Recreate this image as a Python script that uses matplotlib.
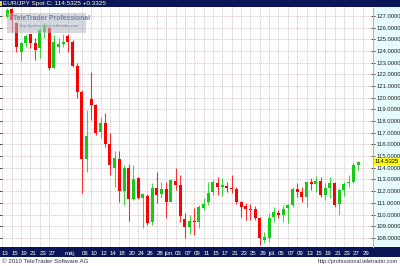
"""EUR/JPY daily candles, TeleTrader style."""

import numpy as np
import matplotlib.pyplot as plt
from matplotlib.patches import Rectangle
from matplotlib.transforms import ScaledTranslation

# daily OHLC, 14 Apr .. end of Jul
opens = [126.94, 127.60, 126.37, 123.95, 124.66, 125.43, 124.66, 124.23, 125.66, 125.94,
         122.52, 124.37, 124.57, 125.32, 124.74, 122.75, 120.47, 114.76, 119.89, 119.38,
         117.10, 117.81, 116.01, 114.00, 114.76, 112.02, 114.00, 111.33, 113.16, 111.45,
         111.62, 109.33, 112.30, 111.73, 112.19, 111.10, 112.87, 112.53, 109.62, 108.96,
         109.45, 109.39, 110.60, 111.10, 111.90, 112.73, 112.39, 112.47, 112.30, 112.19,
         111.05, 110.72, 110.47, 110.47, 109.73, 107.82, 107.96, 109.82, 110.10, 109.96,
         110.53, 110.82, 112.19, 111.96, 111.53, 112.76, 112.59, 112.87, 111.68, 112.30,
         112.67, 110.87, 112.10, 112.67, 112.82, 114.20]
highs = [127.71, 127.66, 126.50, 124.80, 125.50, 125.50, 125.09, 125.94, 126.37, 126.09,
         125.37, 125.09, 125.50, 125.50, 124.94, 122.95, 120.66, 118.95, 122.23, 119.44,
         118.38, 118.67, 116.95, 115.40, 115.44, 114.24, 114.30, 114.24, 113.24, 111.87,
         111.73, 112.67, 113.67, 112.82, 112.82, 113.04, 114.00, 113.39, 110.10, 109.96,
         110.53, 110.82, 111.45, 112.82, 112.96, 113.24, 113.16, 112.76, 113.39, 112.39,
         111.16, 110.96, 110.88, 110.72, 109.82, 108.53, 110.10, 110.68, 110.39, 110.82,
         110.88, 112.39, 112.67, 112.39, 112.82, 113.16, 113.33, 113.24, 112.67, 113.24,
         112.76, 112.24, 112.82, 113.39, 114.39, 114.60]
lows = [126.80, 125.66, 123.95, 123.15, 124.37, 124.23, 123.23, 123.37, 125.09, 122.38,
        122.52, 123.80, 124.37, 123.95, 122.66, 119.95, 111.82, 113.67, 118.10, 116.81,
        116.53, 115.81, 113.39, 112.40, 111.10, 110.80, 109.45, 111.25, 111.33, 108.82,
        109.11, 109.11, 110.96, 111.45, 109.68, 111.05, 112.10, 109.33, 107.97, 108.31,
        108.25, 108.88, 110.39, 110.82, 111.67, 111.67, 111.62, 111.96, 111.82, 110.88,
        109.82, 109.53, 109.53, 109.53, 107.40, 107.53, 107.68, 109.39, 109.68, 109.39,
        109.25, 110.68, 111.53, 111.10, 110.68, 112.10, 111.96, 111.53, 111.25, 111.45,
        110.68, 109.96, 111.62, 112.39, 112.67, 113.80]
closes = [127.51, 126.66, 124.37, 124.66, 125.32, 124.66, 124.09, 125.80, 126.09, 122.52,
          124.80, 124.57, 124.74, 124.74, 122.75, 120.47, 114.76, 116.76, 119.38, 116.95,
          117.81, 116.01, 114.20, 114.80, 112.02, 114.00, 111.33, 113.04, 111.45, 111.73,
          109.25, 112.30, 111.68, 112.19, 111.10, 112.96, 112.53, 109.90, 108.96, 109.45,
          109.39, 110.68, 110.90, 111.87, 112.76, 112.39, 112.53, 112.30, 112.19, 111.05,
          110.68, 110.47, 110.36, 109.68, 107.96, 108.10, 109.73, 110.19, 109.96, 110.47,
          110.82, 112.19, 111.96, 111.53, 112.76, 112.59, 112.87, 111.70, 112.30, 112.67,
          110.82, 112.10, 112.59, 112.82, 114.20, 114.5325]

# x labels sit on trading-day index
tick_idx = [-1, 1, 3, 5, 7, 9, 13, 16, 18, 20, 22, 24, 26, 28, 30, 32, 34, 36, 38, 40,
            42, 44, 46, 48, 50, 52, 54, 56, 58, 60, 62, 64, 66, 68, 70, 72, 74, 76]
tick_labels = ["13", "15", "19", "21", "23", "27", "máj.", "06", "10", "12", "14", "18",
               "20", "24", "26", "28", "jún.", "03", "07", "09", "11", "15", "17", "21",
               "23", "25", "29", "júl.", "05", "07", "09", "13", "15", "19", "21", "23",
               "27", "29"]
price_levels = list(range(108, 128))

title_text = "EUR/JPY Spot C: 114.5325 +0.3325"
last_price = closes[-1]

NAVY = '#0a1656'
RED = '#ff0000'
GREEN = '#14cc14'
GRID = '#d6c4ca'
NARROW = ['Liberation Sans Narrow', 'Liberation Sans', 'DejaVu Sans']

W, H = 400, 266
fig = plt.figure(figsize=(W / 100, H / 100), dpi=100)
fig.patch.set_facecolor('white')


def fx(px):
    return px / W


def fy(py):
    # pixel rows counted from the top
    return 1 - py / H


# backgrounds go under the axes
fig.patches.append(Rectangle((fx(373), fy(247)), fx(27), 240 / H, transform=fig.transFigure,
                             facecolor='#e6fbfb', edgecolor='none', zorder=-2))
fig.patches.append(Rectangle((0, fy(7)), 1, 7 / H, transform=fig.transFigure,
                             facecolor=NAVY, edgecolor='none', zorder=-2))
fig.patches.append(Rectangle((0, fy(257)), 1, 10 / H, transform=fig.transFigure,
                             facecolor=NAVY, edgecolor='none', zorder=-2))
fig.patches.append(Rectangle((0, fy(6)), fx(2), 5 / H, transform=fig.transFigure,
                             facecolor='#e8d040', edgecolor='none', zorder=-1))

ax = fig.add_axes([0, fy(247), fx(373), 240 / H])
ax.set_facecolor('white')

x = np.arange(len(opens))
o = np.array(opens)
c = np.array(closes)
up = c >= o
colors = np.where(up, GREEN, RED)

ax.vlines(x, lows, highs, colors=colors, linewidth=0.8, alpha=0.8, zorder=3)
body_lo = np.minimum(o, c)
body_h = np.maximum(np.abs(c - o), 0.09)
ax.bar(x, body_h, bottom=body_lo, width=0.64, color=colors, edgecolor='none', zorder=4)

ax.set_xlim(-1.5, 78.2)
ax.set_ylim(107.22, 127.77)

ax.set_yticks(price_levels)
ax.set_yticklabels([f"{v:.4f}" for v in price_levels])
ax.set_xticks(tick_idx)
ax.set_xticklabels(tick_labels)

for v in price_levels:
    ax.axhline(v, color=GRID, linewidth=0.7, linestyle=(0, (1, 1)), zorder=1)
for t in tick_idx:
    ax.axvline(t, color=GRID, linewidth=0.7, linestyle=(0, (1, 1)), zorder=1)

ax.tick_params(axis='y', left=True, right=True, labelleft=False, labelright=True,
               direction='inout', length=3, width=0.6, color='#303030',
               labelsize=4.2, pad=1.0, labelcolor='#202020')
ax.tick_params(axis='x', bottom=False, labelbottom=True, length=0,
               labelsize=4.4, pad=2.6, labelcolor='white')
for lab in ax.get_xticklabels() + ax.get_yticklabels():
    lab.set_family(NARROW)
shift = ScaledTranslation(3 / 100, 0, fig.dpi_scale_trans)
for lab in ax.get_xticklabels():
    lab.set_transform(lab.get_transform() + shift)

for side in ['top', 'bottom', 'left']:
    ax.spines[side].set_visible(False)
ax.spines['right'].set_color('#c8c050')
ax.spines['right'].set_linestyle((0, (1, 1)))
ax.spines['right'].set_linewidth(0.8)

# last price marker
ax.annotate(f"{last_price:.4f}", xy=(1, last_price), xycoords=('axes fraction', 'data'),
            xytext=(1.0, 0), textcoords='offset points', va='center', ha='left',
            fontsize=4.2, family=NARROW, color='black', annotation_clip=False,
            bbox=dict(boxstyle='square,pad=0.15', facecolor='#ffff00', edgecolor='none'),
            zorder=10)

# watermark
fig.patches.append(Rectangle((fx(7), fy(33)), fx(79), 20 / H, transform=fig.transFigure,
                             facecolor='#b4b8c2', edgecolor='none', alpha=0.55, zorder=5))
fig.text(fx(13), fy(18.5), "TeleTrader Professional", fontsize=4.9, fontweight='bold',
         family=NARROW, color='#7084a8', va='center', ha='left', zorder=6)
fig.text(fx(20), fy(25.5), "http://professional.teletrader.com", fontsize=3.0,
         family=NARROW, color='#7084a8', va='center', ha='left', zorder=6)

# header and footer text
fig.text(fx(3), fy(3.6), title_text, fontsize=4.6, family=NARROW, color='#ffffe0',
         va='center', ha='left', zorder=6)
fig.text(fx(2), fy(261.5), "© 2010 TeleTrader Software AG", fontsize=4.4, family=NARROW,
         color='#303040', va='center', ha='left')
fig.text(fx(398), fy(261.5), "http://professional.teletrader.com", fontsize=4.0,
         family=NARROW, color='#303040', va='center', ha='right')

fig.savefig('out.png', dpi=100)
